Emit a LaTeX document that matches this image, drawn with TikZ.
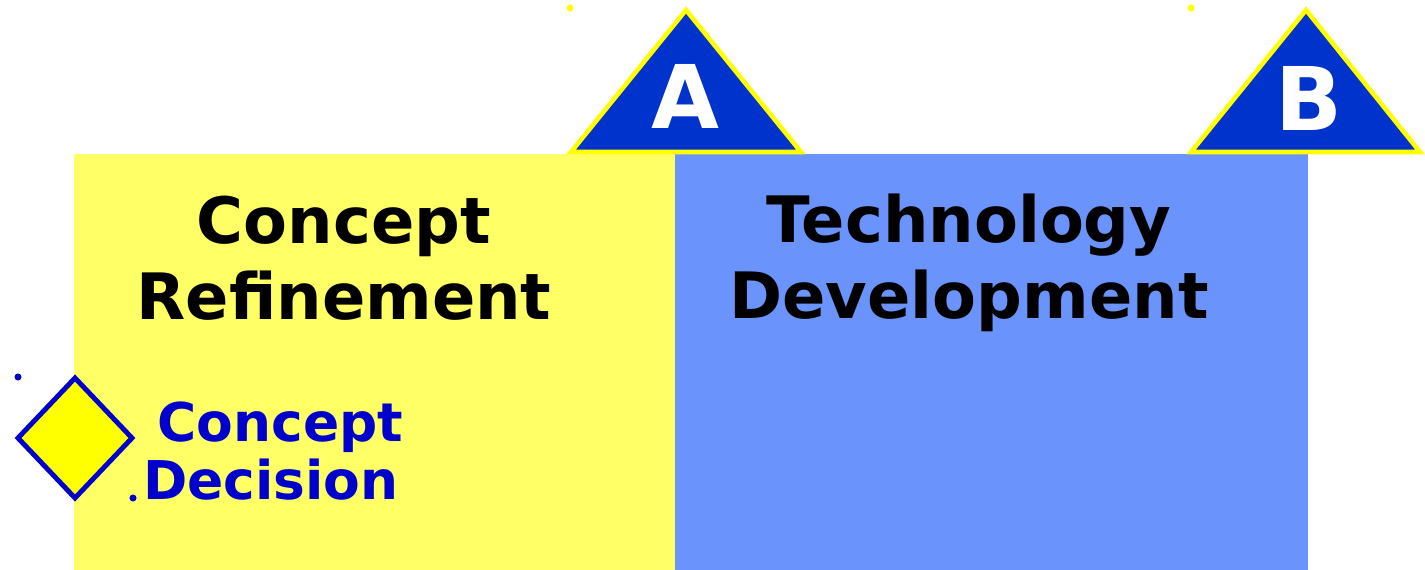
\documentclass[tikz,border=0pt]{standalone}
\usepackage{fontspec}
\setmainfont{DejaVu Sans}
\usepackage{tikz}
\usetikzlibrary{calc}

\definecolor{phaseyellow}{HTML}{FFFF66}
\definecolor{phaseblue}{HTML}{6B93FC}
\definecolor{msblue}{HTML}{0033CC}
\definecolor{decblue}{HTML}{0000CC}
\definecolor{pureyellow}{HTML}{FFFF00}

\begin{document}
\begin{tikzpicture}[x=0.02cm, y=-0.02cm, line join=miter]
			      \useasboundingbox (0,0) rectangle (1425,570);
			      \tikzset{
				      phase/.style={font=\fontsize{36.4}{43.5}\selectfont\bfseries, align=center, text=black},
				      mslab/.style={font=\fontsize{50}{50}\selectfont\bfseries, text=white},
				      declab/.style={font=\fontsize{30.4}{33}\selectfont\bfseries, align=center, text=decblue},
				      milestone/.style={fill=msblue, draw=pureyellow, line width=2.6pt},
				      tick/.style={circle, inner sep=0pt, minimum size=4pt}
			      }

			      % --- phase boxes
			      \fill[phaseyellow] (74,154) rectangle (675,570);
			      \fill[phaseblue] (675,154) rectangle (1308,570);

			      % --- milestone triangles
			      \coordinate (A0) at (686,10);
			      \coordinate (B0) at (1306,10);
			      \draw[milestone] (A0) -- (801,152) -- (571,152) -- cycle;
			      \draw[milestone] (B0) -- (1420,152) -- (1191,152) -- cycle;
			      \node[mslab] (mA) at (685,96) {A};
			      \node[mslab] (mB) at (1309,98) {B};

			      % --- decision diamond
			      \coordinate (D) at (75,438);
			      \draw[fill=pureyellow, draw=decblue, line width=2.8pt]
			      ($(D)+(-57,0)$) -- ($(D)+(0,-60)$) -- ($(D)+(57,0)$) -- ($(D)+(0,60)$) -- cycle;

			      % --- small marks at corners
			      \node[tick, fill=pureyellow] (ta) at (570,8) {};
			      \node[tick, fill=pureyellow] (tb) at (1191,8) {};
			      \node[tick, fill=decblue] (td1) at (18,377) {};
			      \node[tick, fill=decblue] (td2) at (133,498) {};

			      % --- labels
			      \node[phase] (cr) at (344,258) {Concept\\Refinement};
			      \node[phase] (td) at (969,263) {Technology\\Development};
			      \node[declab] (cd) at (271,451) {\ Concept\\Decision};

		      \end{tikzpicture}
\end{document}
